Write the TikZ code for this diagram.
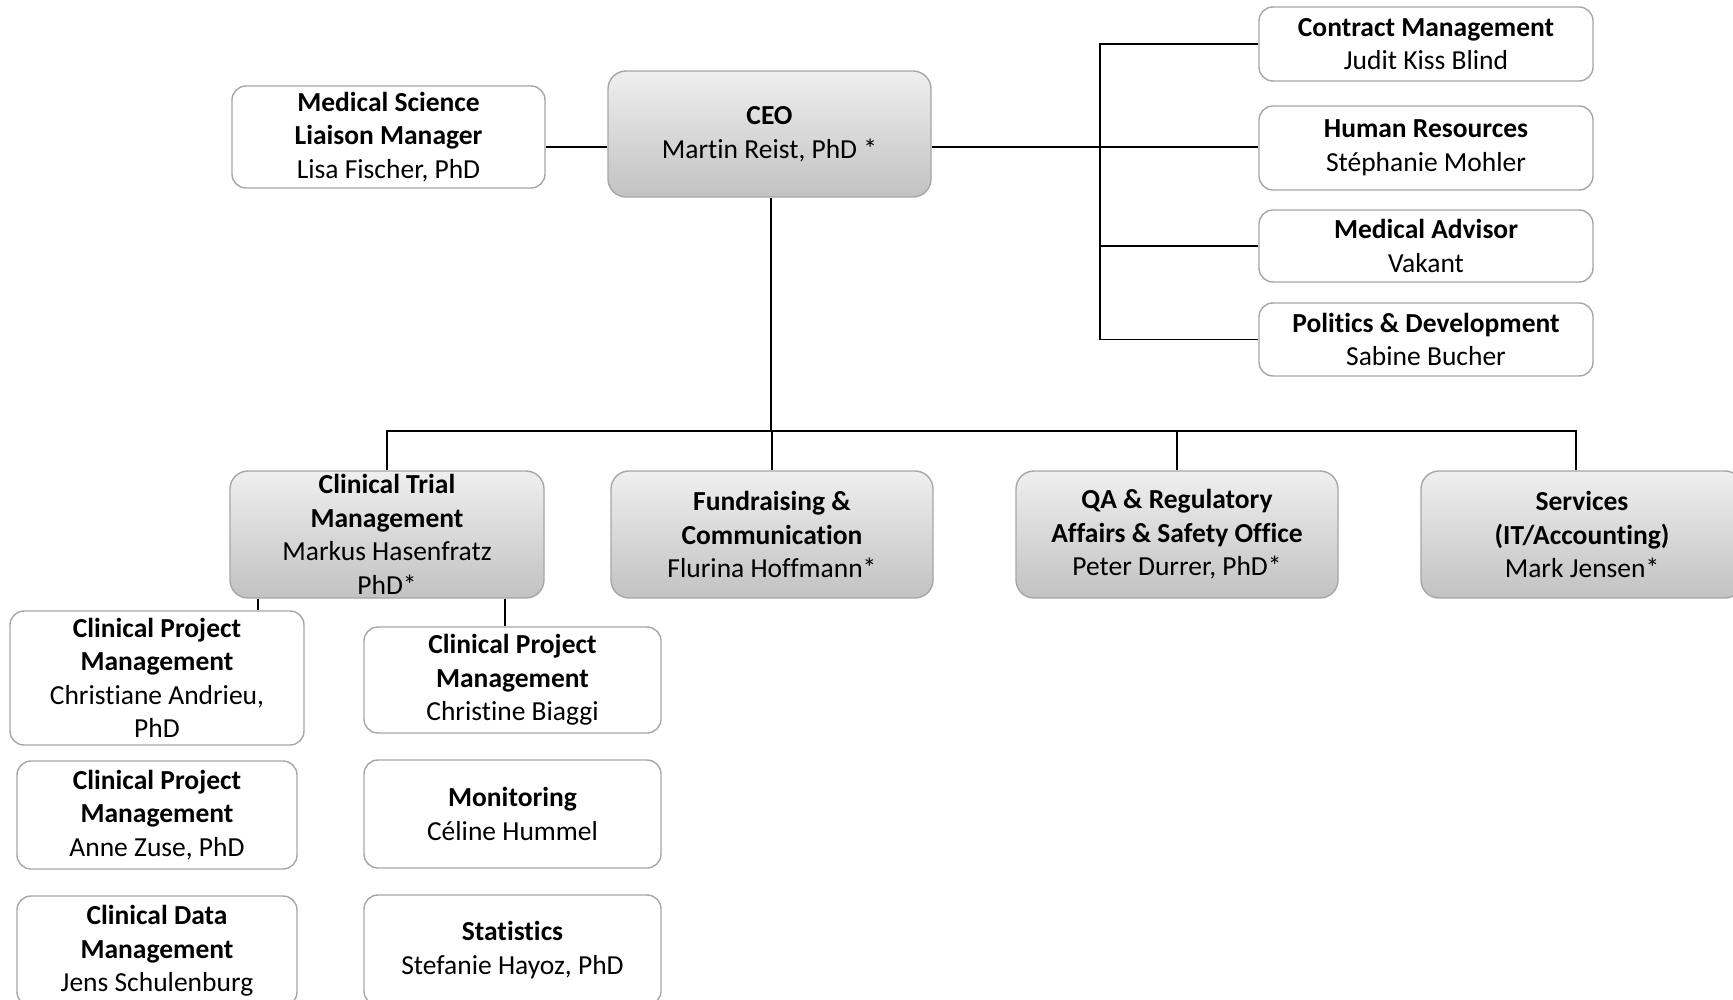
\documentclass[tikz,border=0pt]{standalone}
\usepackage{fontspec}
\setmainfont{Carlito}[Ligatures={NoCommon}]
\definecolor{boxline}{HTML}{A6A6A6}
\definecolor{gtop}{HTML}{EFEFEF}
\definecolor{gbot}{HTML}{C2C2C2}
\begin{document}
\begin{tikzpicture}[x=1pt,y=-1pt,
  base/.style={align=center,inner sep=0pt,font=\fontsize{27.5}{33.5}\selectfont,line width=1.4pt},
  whitebox/.style={base,draw=boxline,fill=white,rounded corners=14pt},
  graybox/.style={base,draw=boxline,top color=gtop,bottom color=gbot,rounded corners=18pt},
  conn/.style={line width=1.8pt,black}]
\useasboundingbox (0,0) rectangle (1733,1000);
\fill[white] (0,0) rectangle (1733,1000);
% top level
\node[whitebox,minimum width=313pt,minimum height=102pt] (msl) at (388.5,137) {\textbf{Medical Science}\\\textbf{Liaison Manager}\\Lisa Fischer, PhD};
\node[graybox,minimum width=323pt,minimum height=126pt] (ceo) at (769.5,134) {\textbf{CEO}\\Martin Reist, PhD *};
% staff boxes right
\node[whitebox,minimum width=334pt,minimum height=74pt] (contract) at (1426,44) {\textbf{Contract Management}\\Judit Kiss Blind};
\node[whitebox,minimum width=334pt,minimum height=84pt] (hr) at (1426,148) {\textbf{Human Resources}\\Stéphanie Mohler};
\node[whitebox,minimum width=334pt,minimum height=72pt] (ma) at (1426,246) {\textbf{Medical Advisor}\\Vakant};
\node[whitebox,minimum width=334pt,minimum height=73pt] (pol) at (1426,339.5) {\textbf{Politics \& Development}\\Sabine Bucher};
% second row
\node[graybox,minimum width=314pt,minimum height=127pt] (ctm) at (387,534.5) {\textbf{Clinical Trial}\\\textbf{Management}\\Markus Hasenfratz\\PhD*};
\node[graybox,minimum width=322pt,minimum height=127pt] (fund) at (772,534.5) {\textbf{Fundraising \&}\\\textbf{Communication}\\Flurina Hoffmann*};
\node[graybox,minimum width=322pt,minimum height=127pt] (qa) at (1177,534.5) {\textbf{QA \& Regulatory}\\\textbf{Affairs \& Safety Office}\\Peter Durrer, PhD*};
\node[graybox,minimum width=322pt,minimum height=127pt] (serv) at (1582,534.5) {\textbf{Services}\\\textbf{(IT/Accounting)}\\Mark Jensen*};
% third level
\node[whitebox,minimum width=294pt,minimum height=134pt] (andrieu) at (157,678) {\textbf{Clinical Project}\\\textbf{Management}\\Christiane Andrieu,\\PhD};
\node[whitebox,minimum width=297pt,minimum height=106pt] (biaggi) at (512.5,680) {\textbf{Clinical Project}\\\textbf{Management}\\Christine Biaggi};
\node[whitebox,minimum width=280pt,minimum height=108pt] (zuse) at (157,815) {\textbf{Clinical Project}\\\textbf{Management}\\Anne Zuse, PhD};
\node[whitebox,minimum width=297pt,minimum height=108pt] (mon) at (512.5,814) {\textbf{Monitoring}\\Céline Hummel};
\node[whitebox,minimum width=280pt,minimum height=110pt] (cdm) at (157,951) {\textbf{Clinical Data}\\\textbf{Management}\\Jens Schulenburg};
\node[whitebox,minimum width=297pt,minimum height=110pt] (stat) at (512.5,950) {\textbf{Statistics}\\Stefanie Hayoz, PhD};
% helper coordinates
\coordinate (h1) at (0,147);
\coordinate (bx) at (1100,0);
\coordinate (by) at (0,431);
\coordinate (sx) at (1576,0);
% connectors
\draw[conn] (msl.east |- h1) -- (ceo.west |- h1);
\draw[conn] (ceo.east |- h1) -- (hr.west |- h1);
\draw[conn] (contract.west) -- (contract.west -| bx) -- (pol.west -| bx) -- (pol.west);
\draw[conn] (ma.west) -- (ma.west -| bx);
\draw[conn] ([xshift=1.5pt]ceo.south) -- ([xshift=1.5pt]ceo.south |- by);
\draw[conn] (ctm.north) -- (ctm.north |- by) -- (sx |- by) -- (sx |- serv.north);
\draw[conn] (fund.north) -- (fund.north |- by);
\draw[conn] (qa.north) -- (qa.north |- by);
\draw[conn] ([xshift=-129pt]ctm.south) -- ([xshift=-129pt]ctm.south |- andrieu.north);
\draw[conn] ([xshift=118pt]ctm.south) -- ([xshift=118pt]ctm.south |- biaggi.north);
\end{tikzpicture}
\end{document}
